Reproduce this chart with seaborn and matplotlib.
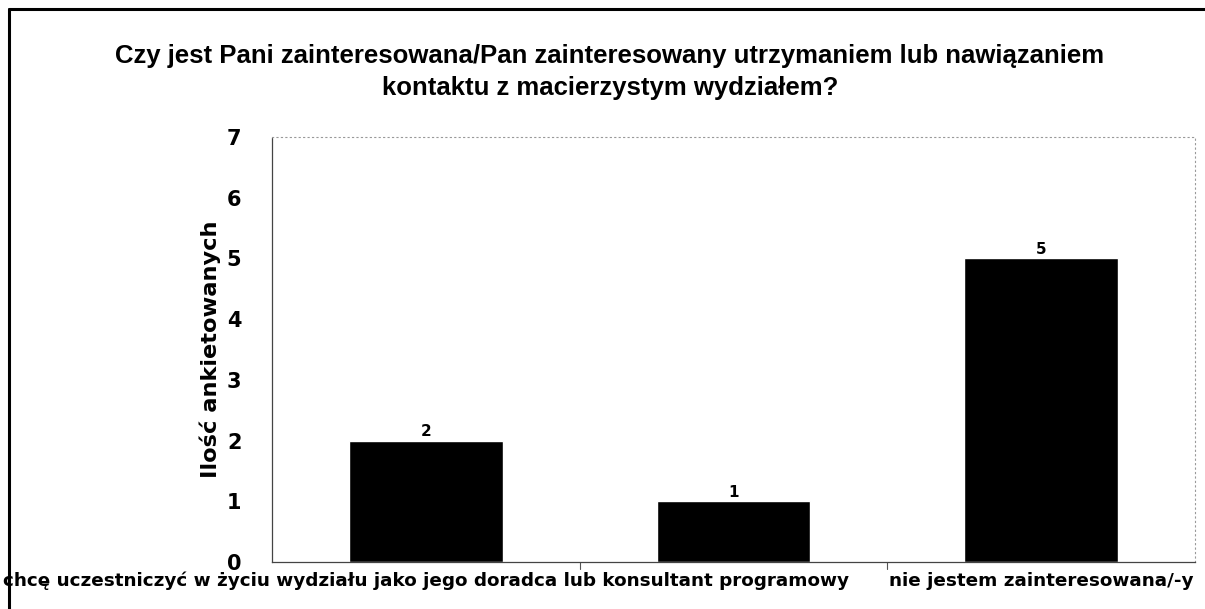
import matplotlib
matplotlib.use("Agg")
import matplotlib.pyplot as plt
from matplotlib.lines import Line2D
import seaborn as sns
import pandas as pd

categories = [
    "chcę uczestniczyć w życiu wydziału jako jego doradca lub konsultant programowy",
    "chcę utrzymywać kontakt z wydziałem",
    "nie jestem zainteresowana/-y",
]
counts = [2, 1, 5]
tick_labels = [categories[0], "", categories[2]]
title = ("Czy jest Pani zainteresowana/Pan zainteresowany utrzymaniem lub nawiązaniem\n"
         "kontaktu z macierzystym wydziałem?")
y_label = "Ilość ankietowanych"

sns.set_theme(style="white")
plt.rcParams["font.family"] = ["DejaVu Sans"]
plt.rcParams.update({"text.color": "black", "axes.labelcolor": "black",
                     "xtick.color": "black", "ytick.color": "black"})

df = pd.DataFrame({"kategoria": categories, "liczba": counts})

fig = plt.figure(figsize=(12.05, 6.09), dpi=100)
ax = fig.add_axes([0.2257, 0.0772, 0.7660, 0.6978])

sns.barplot(data=df, x="kategoria", y="liczba", order=categories,
            color="black", width=0.5, saturation=1, ax=ax)

ax.set_ylim(0, 7)
ax.set_xlim(-0.5, 2.5)
ax.set_yticks(range(0, 8))
ax.tick_params(axis="y", length=0, pad=22, labelsize=15)
for t in ax.get_yticklabels():
    t.set_fontweight("bold")

ax.set_xticks([0, 1, 2])
ax.set_xticklabels(tick_labels, fontsize=13.2, fontweight="bold", color="black")
ax.tick_params(axis="x", length=0, pad=7)
# small separator ticks between categories
for xb in (0.5, 1.5):
    ax.plot([xb, xb], [0, -0.12], color="#555555", lw=0.8, clip_on=False)

ax.set_xlabel("")
ax.set_ylabel(y_label, fontsize=16.2, fontweight="bold", labelpad=4)

for i, v in enumerate(counts):
    ax.annotate(str(v), (i, v), xytext=(0, 1), textcoords="offset points",
                ha="center", va="bottom", fontsize=11, fontweight="bold")

ax.spines["left"].set_linestyle((0, (4, 1)))
ax.spines["left"].set_color("#444444")
ax.spines["left"].set_linewidth(0.9)
ax.spines["bottom"].set_linestyle((0, (4, 1)))
ax.spines["bottom"].set_color("#444444")
ax.spines["bottom"].set_linewidth(0.9)
for s in ("top", "right"):
    ax.spines[s].set_linestyle((0, (1, 3)))
    ax.spines[s].set_color("#999999")
    ax.spines[s].set_linewidth(0.8)

fig.text(0.506, 0.928, title, ha="center", va="top", fontsize=18.5,
         fontweight="bold", linespacing=1.45,
         family=["Liberation Sans Narrow", "Liberation Sans", "DejaVu Sans"])

# outer chart frame (left and top edges)
fig.add_artist(Line2D([9 / 1205, 9 / 1205], [0, 1 - 9 / 609], transform=fig.transFigure,
                      color="black", lw=2.2))
fig.add_artist(Line2D([9 / 1205, 1], [1 - 9 / 609, 1 - 9 / 609], transform=fig.transFigure,
                      color="black", lw=2.2))

fig.savefig("out.png", dpi=100)
